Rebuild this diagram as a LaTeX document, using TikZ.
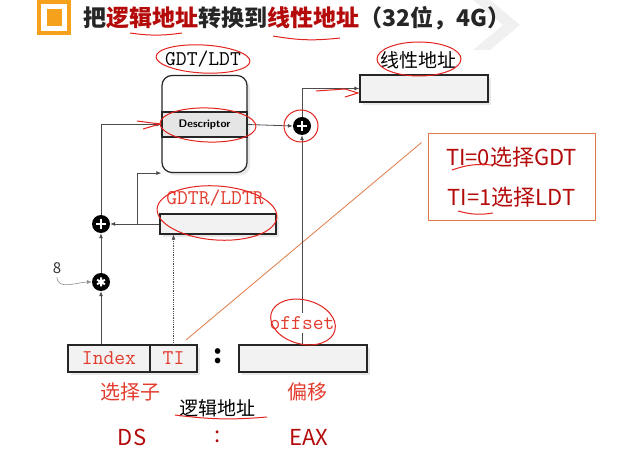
\documentclass[tikz,border=0pt]{standalone}
\usepackage{fontspec}
\setmainfont{Noto Sans CJK SC}
\setmonofont{Latin Modern Mono}
\usetikzlibrary{arrows.meta,shadows}
\definecolor{titlered}{HTML}{B40A0A}
\definecolor{penred}{HTML}{E3231E}
\definecolor{labred}{HTML}{E23C2E}
\definecolor{boxorange}{HTML}{E07A45}
\definecolor{iconorange}{HTML}{F5A11C}
\tikzset{
  box/.style={draw=black!85, line width=1.2pt, fill=black!5, inner sep=0pt,
    drop shadow={shadow xshift=3pt, shadow yshift=-3pt, fill=black!18}},
  opnode/.style={circle, fill=black, minimum size=18pt, inner sep=0pt},
  arr/.style={-{Latex[length=5pt,width=4pt]}, black!70, line width=0.8pt},
  pen/.style={penred, line width=1pt},
  monolab/.style={font=\ttfamily\fontsize{21}{21}\selectfont},
  bigtext/.style={font=\fontsize{20}{20}\selectfont}
}
\begin{document}
\begin{tikzpicture}[x=1pt,y=-1pt]
  \useasboundingbox (0,0) rectangle (632,462);
  % faint backdrop
  \fill[black!6] (473,0) -- (490,0) -- (520,25) -- (490,50) -- (473,50) -- (503,25) -- cycle;
  % title
  \draw[iconorange, line width=3.5pt] (39,2) rectangle (69,33);
  \fill[iconorange] (47,9) rectangle (62,26);
  \node[anchor=west, font=\bfseries\fontsize{23}{23}\selectfont, text=black!85]
    (title) at (80,18) {把{\color{titlered}逻辑地址}转换到{\color{titlered}线性地址}（32位，4G）};
  % descriptor table
  \node[monolab] (gdtlab) at (203,59) {GDT/LDT};
  \node[box, fill=white, rounded corners=10pt, minimum width=85pt, minimum height=97pt] (gdt) at (204.5,124) {};
  \node[draw=black!85, line width=1.2pt, fill=black!10, minimum width=85pt, minimum height=25pt,
    font=\sffamily\bfseries\fontsize{11}{11}\selectfont] (desc) at (204.5,124.5) {Descriptor};
  % linear address
  \node[font=\fontsize{19}{19}\selectfont] (linlab) at (418,60) {线性地址};
  \node[box, minimum width=128pt, minimum height=27pt] (lin) at (424,88.5) {};
  % GDTR/LDTR
  \node[monolab, text=labred] (gdtrlab) at (215,198) {GDTR/LDTR};
  \node[box, minimum width=116pt, minimum height=20pt] (gdtr) at (218,224) {};
  % adders and multiplier
  \node[opnode, path picture={\draw[white, line width=2.6pt]
    (path picture bounding box.center) +(-5pt,0pt) -- +(5pt,0pt)
    (path picture bounding box.center) +(0pt,-5pt) -- +(0pt,5pt);}] (addlin) at (302,126) {};
  \node[opnode, path picture={\draw[white, line width=2.6pt]
    (path picture bounding box.center) +(-5pt,0pt) -- +(5pt,0pt)
    (path picture bounding box.center) +(0pt,-5pt) -- +(0pt,5pt);}] (addsel) at (101,224) {};
  \node[opnode, path picture={\draw[white, line width=2pt]
    (path picture bounding box.center) +(90:4.5pt) -- +(270:4.5pt)
    (path picture bounding box.center) +(30:4.5pt) -- +(210:4.5pt)
    (path picture bounding box.center) +(150:4.5pt) -- +(330:4.5pt);}] (mul) at (101,282) {};
  \node[font=\fontsize{15}{15}\selectfont, text=black!80] (eight) at (57,268) {8};
  % logical address
  \node[box, minimum width=82pt, minimum height=27pt, monolab, text=labred] (idx) at (109,358.5) {Index};
  \node[box, minimum width=47pt, minimum height=27pt, monolab, text=labred] (ti) at (173.5,358.5) {TI};
  \node[font=\bfseries\fontsize{26}{26}\selectfont] (colon) at (218,356) {:};
  \node[box, minimum width=128pt, minimum height=27pt] (off) at (303,358.5) {};
  \node[monolab, text=labred] (offlab) at (302,323) {offset};
  % captions
  \node[bigtext, text=labred] (sel) at (130,392) {选择子};
  \node[bigtext, text=labred] (offcap) at (307,392) {偏移};
  \node[font=\fontsize{19}{19}\selectfont] (logic) at (217,408) {逻辑地址};
  \node[font=\fontsize{22}{22}\selectfont, text=titlered] (ds) at (132,437) {DS};
  \node[font=\fontsize{22}{22}\selectfont, text=titlered] (dscolon) at (218,437) {:};
  \node[font=\fontsize{22}{22}\selectfont, text=titlered] (eax) at (309,437) {EAX};
  % TI note
  \node[draw=boxorange, line width=1pt, minimum width=167pt, minimum height=87pt,
    align=center, font=\fontsize{22}{40}\selectfont, text=titlered] (tinote) at (511.5,177.5)
    {TI=0选择GDT\\TI=1选择LDT};
  \coordinate (tiend) at (186,340);
  \draw[boxorange, line width=0.8pt] (tiend) -- ([xshift=-6pt,yshift=-9pt]tinote.north west);
  % connectors
  \coordinate (fork) at (137,224);
  \begin{scope}[arr]
    \draw (mul |- idx.north) -- (mul.south);
    \draw (mul.north) -- (addsel.south);
    \draw (gdtr.west) -- (addsel.east);
    \draw (fork) |- (gdt.south west);
    \draw (addsel.north) |- (desc.west);
    \draw[densely dotted] (ti.north) -- (ti.north |- gdtr.south);
    \draw (desc.east) -- (addlin.west);
    \draw (addlin |- offlab.north) -- (addlin.south);
    \draw (addlin.north) |- (lin.west);
    \draw[black!45, line width=0.6pt] (eight.south) to[out=-90,in=180] (mul.west);
  \end{scope}
  \draw[black!70, line width=0.8pt] (addlin |- off.north) -- (addlin |- offlab.south);
  % pen notes
  \draw[pen, rotate around={-3:(203,59)}] (203,59) ellipse [x radius=47pt, y radius=14pt];
  \draw[pen, rotate around={-2:(208,125)}] (208,125) ellipse [x radius=48pt, y radius=17pt];
  \draw[pen, rotate around={-4:(217,213)}] (217,213) ellipse [x radius=60pt, y radius=27pt];
  \draw[pen] (419,59) ellipse [x radius=42pt, y radius=17pt];
  \draw[pen] (301,126) ellipse [x radius=17pt, y radius=16pt];
  \draw[pen, rotate around={-15:(303,322)}] (303,322) ellipse [x radius=33pt, y radius=22pt];
  \draw[pen] (130,33) to[bend right=8] (182,33);
  \draw[pen] (273,36) to[bend right=8] (340,38);
  \draw[pen] (452,170) to[bend left=12] (492,165);
  \draw[pen] (458,211) to[bend right=12] (493,213);
  \draw[pen] (175,415) to[bend right=6] (267,417);
  \draw[pen] (137,121) -- (160,124) -- (143,129);
  \draw[pen] (316,91) -- (345,89) (345,89) -- (358,93) -- (345,97);
\end{tikzpicture}
\end{document}
